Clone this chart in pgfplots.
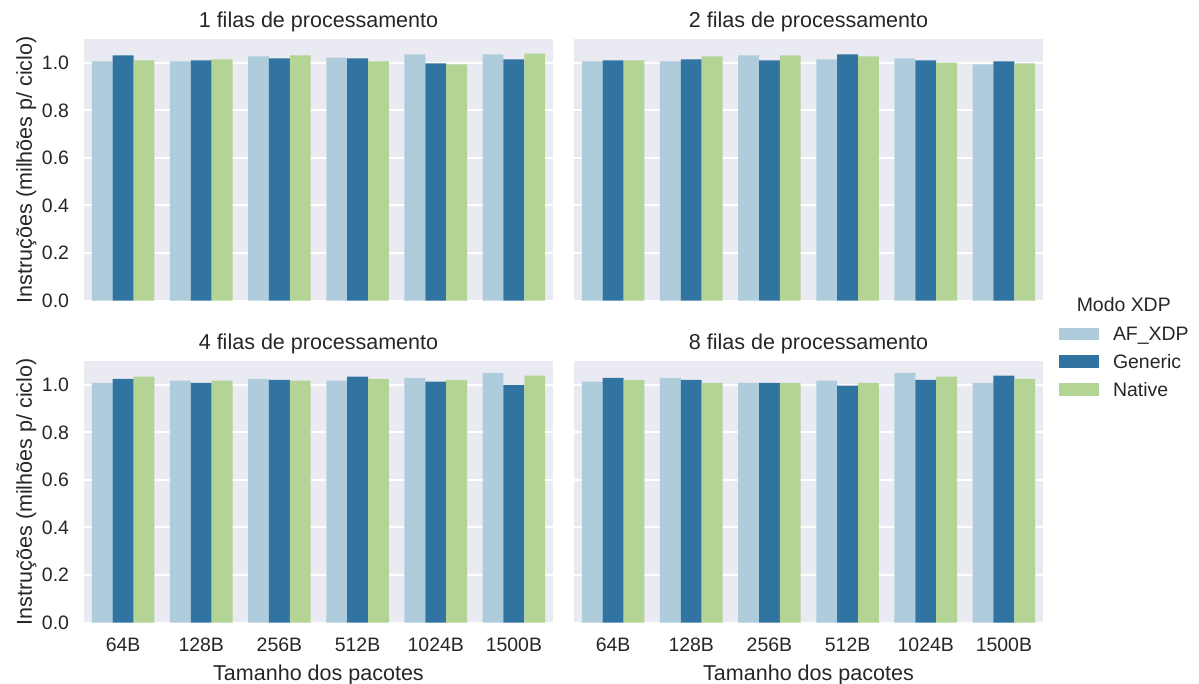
\documentclass[border=0pt]{standalone}
\usepackage{fontspec}
\setmainfont{Liberation Sans}
\usepackage{pgfplots}
\pgfplotsset{compat=1.18}
\usepackage{pgfplotstable}

\definecolor{bg}{HTML}{EAEAF2}
\definecolor{cAF}{HTML}{AECCDB}
\definecolor{cGen}{HTML}{3274A1}
\definecolor{cNat}{HTML}{B3D495}
\definecolor{txt}{HTML}{262626}

% x: 0=64B 1=128B 2=256B 3=512B 4=1024B 5=1500B
\pgfplotstableread{
x af gen nat
0 1.006 1.031 1.010
1 1.006 1.010 1.014
2 1.027 1.018 1.031
3 1.022 1.018 1.006
4 1.035 0.997 0.993
5 1.035 1.014 1.039
}\tA
\pgfplotstableread{
x af gen nat
0 1.006 1.010 1.010
1 1.006 1.014 1.027
2 1.031 1.010 1.031
3 1.014 1.035 1.027
4 1.018 1.010 1.001
5 0.993 1.006 0.997
}\tB
\pgfplotstableread{
x af gen nat
0 1.008 1.025 1.034
1 1.017 1.008 1.017
2 1.025 1.021 1.017
3 1.017 1.034 1.025
4 1.029 1.013 1.021
5 1.050 1.000 1.038
}\tC
\pgfplotstableread{
x af gen nat
0 1.013 1.029 1.021
1 1.029 1.021 1.008
2 1.008 1.008 1.008
3 1.017 0.996 1.008
4 1.050 1.021 1.034
5 1.008 1.038 1.025
}\tD

\pgfplotsset{
  panel/.style={
    scale only axis, width=337.68bp, height=188.28bp, anchor=north west,
    xmin=-0.5, xmax=5.5, ymin=0, ymax=1.1,
    axis background/.style={fill=bg},
    axis line style={draw=none},
    major tick length=0pt, tick style={draw=none},
    ymajorgrids, xmajorgrids=false,
    major grid style={white, line width=1.4bp},
    ytick={0,0.2,0.4,0.6,0.8,1.0},
    xtick={0,1,2,3,4,5},
    /pgf/number format/assume math mode=true,
    yticklabel style={font=\fontsize{14bp}{16bp}\selectfont, text=txt, anchor=east, inner sep=0pt, xshift=-10.6bp,
      /pgf/number format/fixed, /pgf/number format/fixed zerofill, /pgf/number format/precision=1},
    xticklabel style={font=\fontsize{14bp}{16bp}\selectfont, text=txt, anchor=base, inner sep=0pt, yshift=-21bp},
    every axis title shift=0pt,
    title style={font=\fontsize{15.5bp}{18bp}\selectfont, text=txt, at={(0.5,1)}, anchor=base, inner sep=0pt, yshift=8.4bp},
    ylabel style={font=\fontsize{15.5bp}{18bp}\selectfont, text=txt, at={(axis description cs:-0.123,0.5)}, anchor=center, inner sep=0pt},
    xlabel style={font=\fontsize{15.5bp}{18bp}\selectfont, text=txt, at={(axis description cs:0.5,-0.22)}, anchor=base, inner sep=0pt},
    legend image code/.code={\path[##1,draw=none] (0bp,-4.6bp) rectangle (28.8bp,4.6bp);},
  },
  baf/.style={ybar, bar width=0.26667, bar shift=-0.26667, fill=cAF, draw=none},
  bgen/.style={ybar, bar width=0.26667, bar shift=0, fill=cGen, draw=none},
  bnat/.style={ybar, bar width=0.26667, bar shift=0.26667, fill=cNat, draw=none},
}

\begin{document}
\begin{tikzpicture}
% panel 1
\begin{axis}[panel, at={(60.48bp,-28.08bp)},
  title={1 filas de processamento},
  ylabel={Instruções (milhões p/ ciclo)},
  xticklabels={}]
\addplot[baf] table[x=x,y=af]{\tA};
\addplot[bgen] table[x=x,y=gen]{\tA};
\addplot[bnat] table[x=x,y=nat]{\tA};
\end{axis}
% panel 2
\begin{axis}[panel, at={(413.28bp,-28.08bp)},
  title={2 filas de processamento},
  xticklabels={}, yticklabels={}]
\addplot[baf] table[x=x,y=af]{\tB};
\addplot[bgen] table[x=x,y=gen]{\tB};
\addplot[bnat] table[x=x,y=nat]{\tB};
\end{axis}
% panel 3
\begin{axis}[panel, at={(60.48bp,-259.92bp)},
  title={4 filas de processamento},
  ylabel={Instruções (milhões p/ ciclo)},
  xlabel={Tamanho dos pacotes},
  xticklabels={64B,128B,256B,512B,1024B,1500B}]
\addplot[baf] table[x=x,y=af]{\tC};
\addplot[bgen] table[x=x,y=gen]{\tC};
\addplot[bnat] table[x=x,y=nat]{\tC};
\end{axis}
% panel 4
\begin{axis}[panel, at={(413.28bp,-259.92bp)},
  title={8 filas de processamento},
  xlabel={Tamanho dos pacotes},
  xticklabels={64B,128B,256B,512B,1024B,1500B},
  yticklabels={},
  legend cell align=left,
  legend style={at={(axis description cs:1.0326,1.131)}, anchor=north west,
    draw=none, fill=none, inner sep=0pt, column sep=10.4bp, row sep=9.9bp,
    nodes={inner sep=0pt, text height=10bp, text depth=0pt,
      font=\fontsize{14bp}{16bp}\selectfont, text=txt}}]
\addplot[baf] table[x=x,y=af]{\tD};
\addlegendentry{AF\_XDP}
\addplot[bgen] table[x=x,y=gen]{\tD};
\addlegendentry{Generic}
\addplot[bnat] table[x=x,y=nat]{\tD};
\addlegendentry{Native}
\end{axis}
\node[anchor=base, inner sep=0pt, text=txt, font=\fontsize{14bp}{16bp}\selectfont] at (809.1bp,-224.4bp) {Modo XDP};
\pgfresetboundingbox
\path (0,0) rectangle (863.28bp,-492.48bp);
\end{tikzpicture}
\end{document}
